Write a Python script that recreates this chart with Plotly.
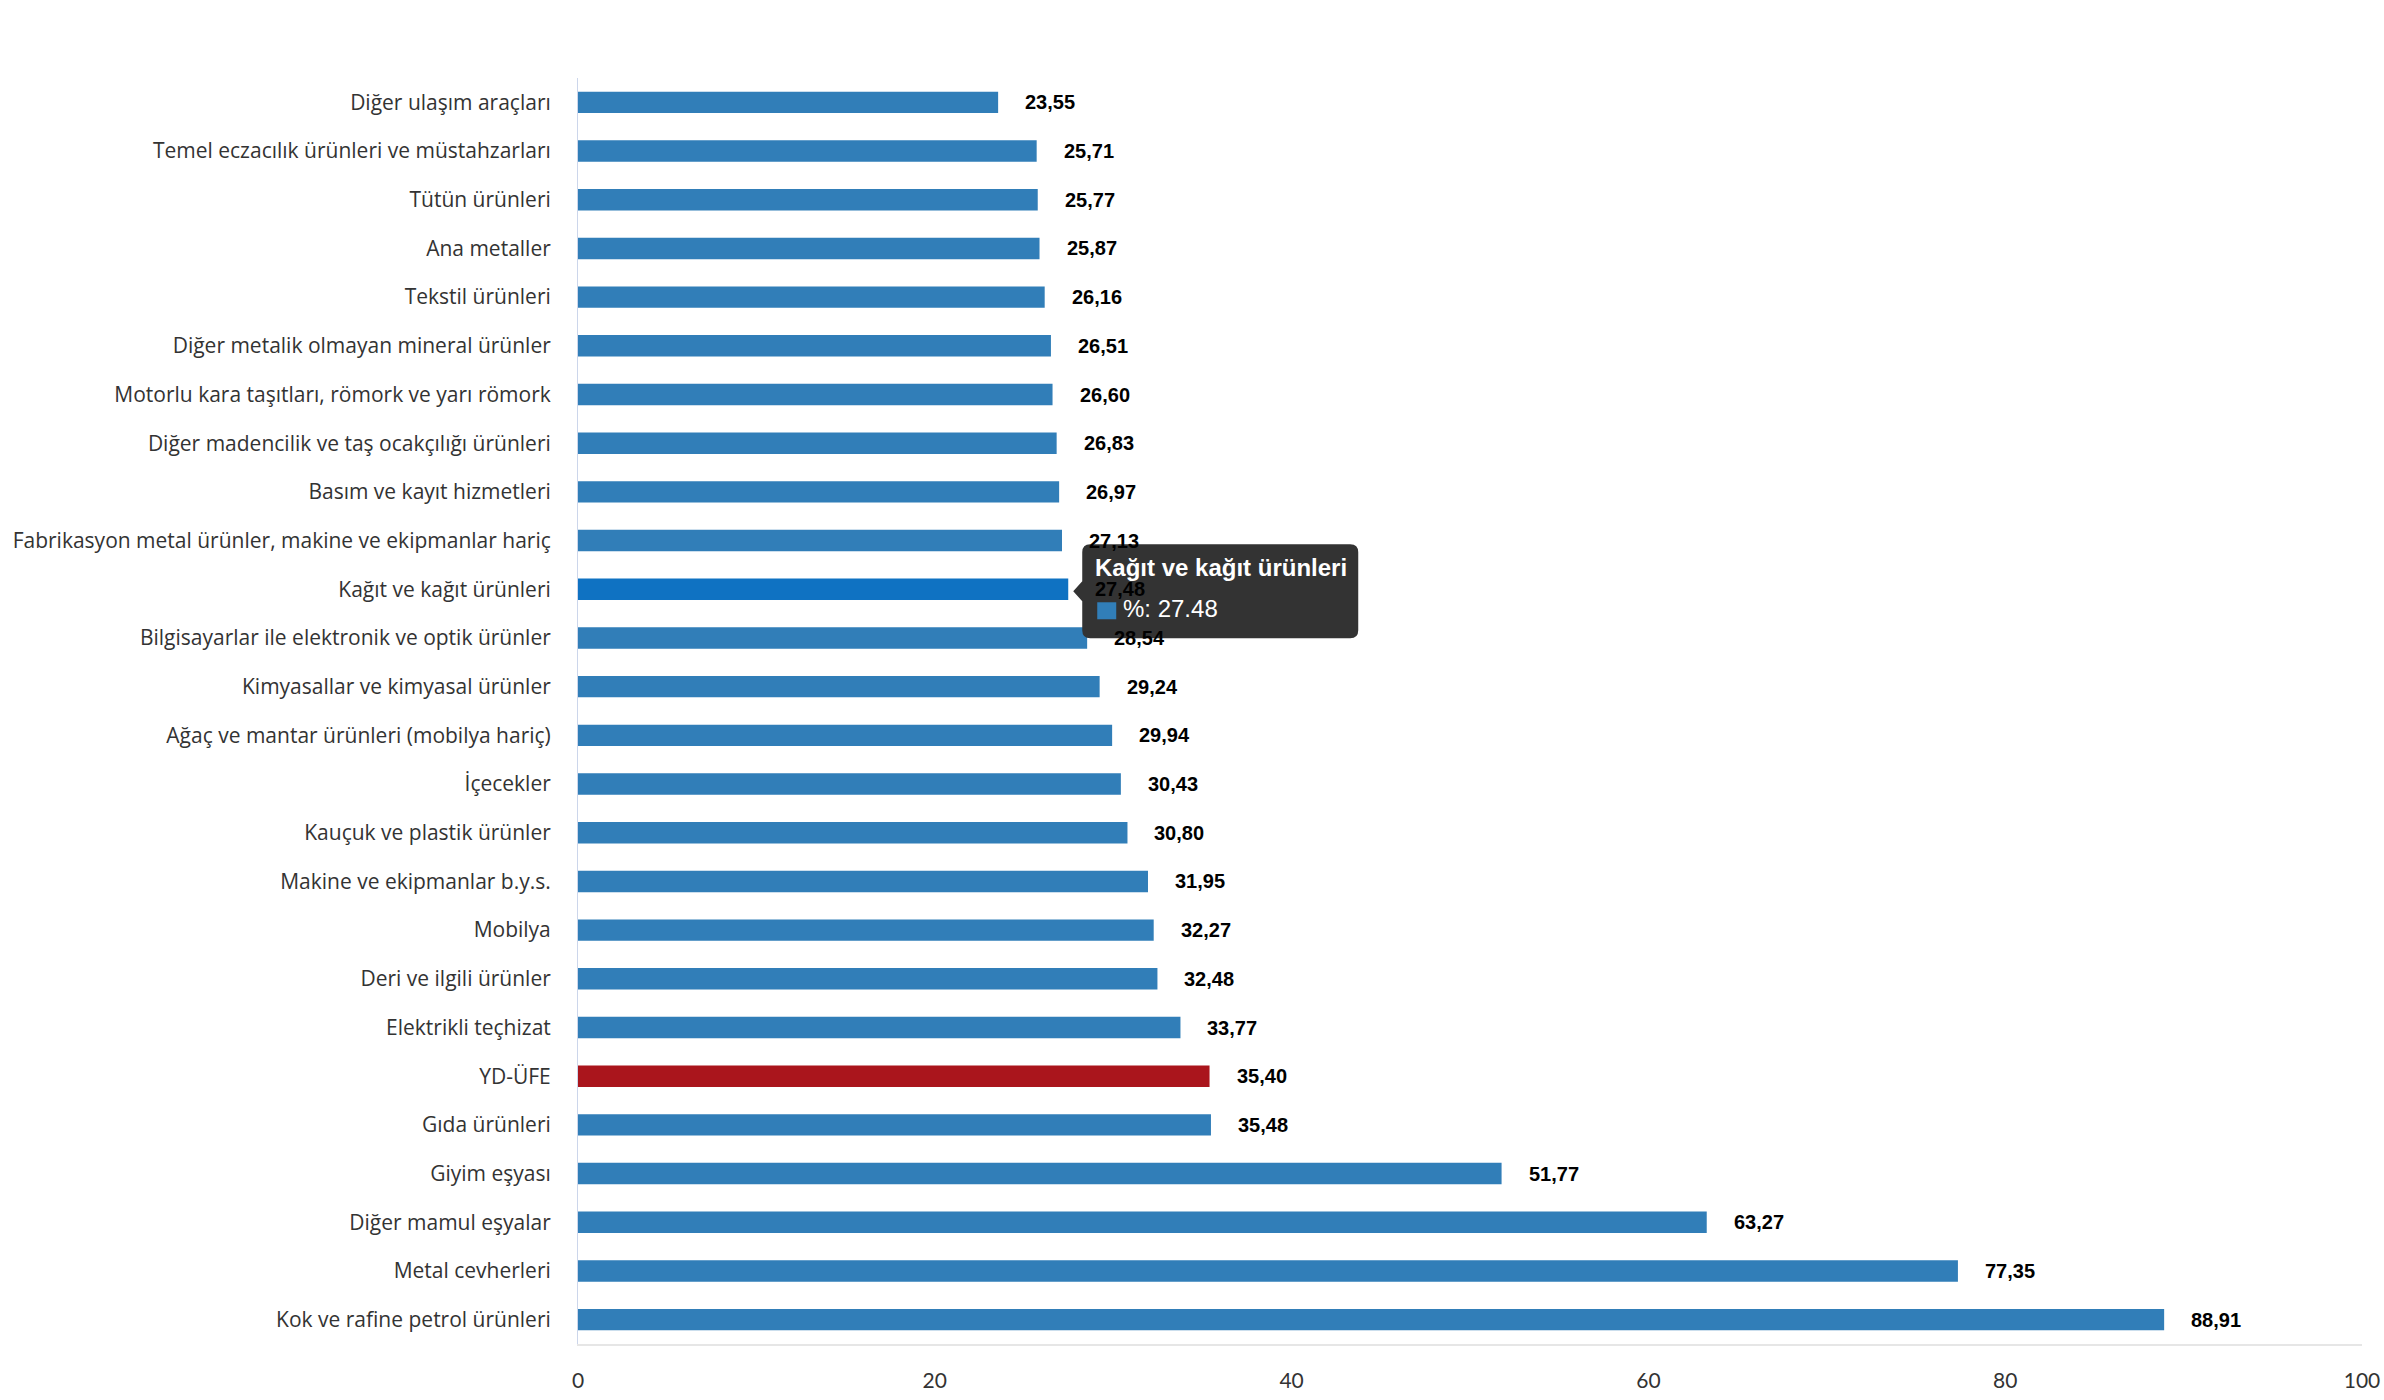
import plotly.graph_objects as go

categories = [
    "Diğer ulaşım araçları",
    "Temel eczacılık ürünleri ve müstahzarları",
    "Tütün ürünleri",
    "Ana metaller",
    "Tekstil ürünleri",
    "Diğer metalik olmayan mineral ürünler",
    "Motorlu kara taşıtları, römork ve yarı römork",
    "Diğer madencilik ve taş ocakçılığı ürünleri",
    "Basım ve kayıt hizmetleri",
    "Fabrikasyon metal ürünler, makine ve ekipmanlar hariç",
    "Kağıt ve kağıt ürünleri",
    "Bilgisayarlar ile elektronik ve optik ürünler",
    "Kimyasallar ve kimyasal ürünler",
    "Ağaç ve mantar ürünleri (mobilya hariç)",
    "İçecekler",
    "Kauçuk ve plastik ürünler",
    "Makine ve ekipmanlar b.y.s.",
    "Mobilya",
    "Deri ve ilgili ürünler",
    "Elektrikli teçhizat",
    "YD-ÜFE",
    "Gıda ürünleri",
    "Giyim eşyası",
    "Diğer mamul eşyalar",
    "Metal cevherleri",
    "Kok ve rafine petrol ürünleri",
]
values = [23.55, 25.71, 25.77, 25.87, 26.16, 26.51, 26.60, 26.83, 26.97, 27.13,
          27.48, 28.54, 29.24, 29.94, 30.43, 30.80, 31.95, 32.27, 32.48, 33.77,
          35.40, 35.48, 51.77, 63.27, 77.35, 88.91]
x_ticks = [0, 20, 40, 60, 80, 100]

highlight = "YD-ÜFE"
hovered = "Kağıt ve kağıt ürünleri"

BLUE = "#317eb8"
RED = "#aa151c"
HOVER = "#0f72c2"

colors = [RED if c == highlight else (HOVER if c == hovered else BLUE) for c in categories]

fig = go.Figure()
fig.add_trace(go.Bar(
    x=values, y=categories, orientation="h",
    marker=dict(color=colors, line=dict(width=0)),
    width=0.44, hoverinfo="skip",
))

# value labels
for c, v in zip(categories, values):
    fig.add_annotation(
        x=v, y=c, xref="x", yref="y", text=f"{v:.2f}".replace(".", ","),
        showarrow=False, xanchor="left", yanchor="middle", xshift=25,
        font=dict(family="Liberation Sans, Arial", size=20, color="#000000", weight="bold"),
    )

# tooltip for hovered bar
hv = values[categories.index(hovered)]
L, R, T, B, r = 14, 290, -45, 49, 8
def P(dx, dy):
    return f"{dx},{-dy}"
path = (
    f"M {P(L + r, T)} L {P(R - r, T)} Q {P(R, T)} {P(R, T + r)} "
    f"L {P(R, B - r)} Q {P(R, B)} {P(R - r, B)} "
    f"L {P(L + r, B)} Q {P(L, B)} {P(L, B - r)} "
    f"L {P(L, 12)} L {P(5, 2)} L {P(L, -8)} "
    f"L {P(L, T + r)} Q {P(L, T)} {P(L + r, T)} Z"
)
fig.add_shape(type="path", xref="x", yref="y", xsizemode="pixel", ysizemode="pixel",
              xanchor=hv, yanchor=hovered, path=path,
              fillcolor="rgba(51,51,51,1)", line=dict(width=0), layer="above")
fig.add_shape(type="rect", xref="x", yref="y", xsizemode="pixel", ysizemode="pixel",
              xanchor=hv, yanchor=hovered, x0=29, x1=48, y0=-13, y1=-30,
              fillcolor=BLUE, line=dict(width=0), layer="above")
fig.add_annotation(x=hv, y=hovered, xref="x", yref="y", showarrow=False,
                   text=hovered, xanchor="left", yanchor="middle", xshift=25, yshift=22,
                   font=dict(family="Liberation Sans, Arial", size=24, color="#ffffff", weight="bold"))
fig.add_annotation(x=hv, y=hovered, xref="x", yref="y", showarrow=False,
                   text=f"%: {hv:.2f}", xanchor="left", yanchor="middle", xshift=53, yshift=-19,
                   font=dict(family="Liberation Sans, Arial", size=24, color="#ffffff"))

fig.update_layout(
    width=2384, height=1400, autosize=False,
    margin=dict(l=578, r=22, t=78, b=56),
    paper_bgcolor="white", plot_bgcolor="white",
    showlegend=False, bargap=0.56,
    xaxis=dict(range=[0, 100], tickvals=x_ticks, showgrid=False, zeroline=False,
               showline=True, linecolor="#e6e6e6", linewidth=2, automargin=False,
               ticks="", ticklabelstandoff=17,
               tickfont=dict(family="Lato, Open Sans, sans-serif", size=21, color="#333333")),
    yaxis=dict(categoryorder="array", categoryarray=categories[::-1],
               showgrid=False, zeroline=False, showline=True, linecolor="#ccd6eb", linewidth=1,
               ticks="", ticklabelstandoff=22, automargin=False,
               tickfont=dict(family="Open Sans, sans-serif", size=21, color="#333333")),
)

fig.write_html("out.html")
